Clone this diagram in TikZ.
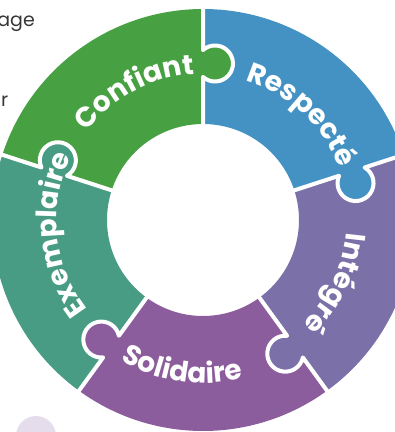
\documentclass[tikz,border=0pt]{standalone}
\usepackage{fontspec}
\usetikzlibrary{calc,decorations.text}
\newfontfamily\puzzlefont{Poppins}

\definecolor{pzgreen}{RGB}{71,161,67}
\definecolor{pzblue}{RGB}{68,146,196}
\definecolor{pzlavender}{RGB}{123,112,168}
\definecolor{pzplum}{RGB}{140,93,156}
\definecolor{pzteal}{RGB}{72,156,131}
\definecolor{pzblob}{RGB}{230,221,236}
\definecolor{pzink}{RGB}{55,55,55}

% ring radii
\def\rin{96}
\def\rout{211}

% one annular sector between two angles
\newcommand\pzsector[3]{%
  \fill[#1] ($(c)+(#2:\rin)$) arc[start angle=#2,end angle=#3,radius=\rin]
    -- ($(c)+(#3:\rout)$) arc[start angle=#3,end angle=#2,radius=\rout] -- cycle;}

% a seam at a given angle, with the tab of the piece on its counter-clockwise side
\newcommand\pzseam[2]{%
  \begin{scope}[shift={(c)},rotate=#1]
    \fill[#2] (156.5,-12) circle[radius=18];
    \draw[seamline] (86,0) -- (143.08,0)
      arc[start angle=138.19,end angle=401.81,radius=18] -- (222,0);
  \end{scope}}

\tikzset{
  seamline/.style={draw=white,line width=4,line join=round,line cap=round},
  ringlabel/.style={decorate,decoration={text along path,text align=center,
      text color=white,text={|\puzzlefont\bfseries\fontsize{28}{28}\selectfont|#1}}},
  bgtext/.style={text=pzink,font=\puzzlefont\fontsize{19}{19}\selectfont,inner sep=0pt}
}

\begin{document}
\begin{tikzpicture}[x=1pt,y=1pt]
  \useasboundingbox (0,0) rectangle (395,432);
  \clip (0,0) rectangle (395,432);
  \coordinate (c) at (203,212);

  % faint background shape and text behind the ring
  \fill[pzblob] (36,-4) circle[radius=20];
  \node[bgtext,anchor=base east] (age) at (35,405) {age};
  \node[bgtext,anchor=base east] (rr) at (8.5,325) {r};

  % the five pieces
  \pzsector{pzblue}{18}{90}
  \pzsector{pzgreen}{90}{162}
  \pzsector{pzteal}{162}{234}
  \pzsector{pzplum}{234}{306}
  \pzsector{pzlavender}{306}{378}

  % seams with their tabs
  \pzseam{90}{pzgreen}
  \pzseam{18}{pzblue}
  \pzseam{-54}{pzlavender}
  \pzseam{234}{pzplum}
  \pzseam{162}{pzteal}

  % labels along the ring
  \path[ringlabel=Confiant] ($(c)+(163:146)$) arc[start angle=163,end angle=73,radius=146];
  \path[ringlabel=Respecté] ($(c)+(92:146)$) arc[start angle=92,end angle=2,radius=146];
  \path[ringlabel=Intégré] ($(c)+(19.5:144)$) arc[start angle=19.5,end angle=-70.5,radius=144];
  \path[ringlabel=Exemplaire] ($(c)+(231:146)$) arc[start angle=231,end angle=141,radius=146];
  \path[ringlabel=Solidaire] ($(c)+(217:163)$) arc[start angle=217,end angle=307,radius=163];
\end{tikzpicture}
\end{document}
